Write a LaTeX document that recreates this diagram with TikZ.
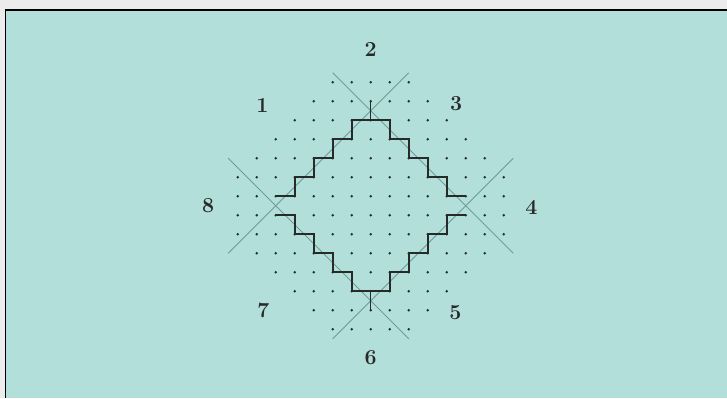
\documentclass[tikz,border=0pt]{standalone}
\usetikzlibrary{positioning,calc}
\definecolor{lgTeal}{HTML}{B2DFDA}
\definecolor{lgFrame}{HTML}{ECECEC}
\definecolor{lgInk}{HTML}{262B2A}
\definecolor{lgLine}{HTML}{6F9C97}
\tikzset{
  lg stair/.style={draw=lgInk, line width=1.5pt, line join=miter},
  lg diag/.style={draw=lgLine, line width=0.7pt},
  lg dot/.style={fill=lgInk},
  lg label/.style={font=\fontsize{16}{19}\selectfont\bfseries, text=lgInk, inner sep=0pt},
}
\begin{document}
\begin{tikzpicture}[x=0.5cm,y=0.5cm]
\useasboundingbox(-19.51,-10.12)rectangle(18.75,10.83);
\fill[lgFrame](-19.51,-10.12)rectangle(18.75,10.83);
\fill[lgTeal](-19.22,-10.12)rectangle(18.75,10.30);
\draw[black,line width=1.2pt](-19.22,-10.12)--(-19.22,10.30)--(18.75,10.30);
% vertices of the diamond
\coordinate(v2)at(0,5);\coordinate(v4)at(5,0);\coordinate(v6)at(0,-5);\coordinate(v8)at(-5,0);
\draw[lg diag]($(v8)+(-2.5,-2.5)$)--(v8)--(v2)--++(2,2);
\draw[lg diag]($(v2)+(-2,2)$)--(v2)--(v4)--++(2.5,-2.5);
\draw[lg diag]($(v4)+(2.5,2.5)$)--(v4)--(v6)--++(-2,-2);
\draw[lg diag]($(v6)+(2,-2)$)--(v6)--(v8)--++(-2.5,2.5);
% dot grid
\foreach \r in {0,...,6}{
  \pgfmathtruncatemacro\m{min(7,8-\r)}
  \foreach \c in {-\m,...,\m}{\fill[lg dot](\c,\r+.5)circle(1pt);\fill[lg dot](\c,-\r-.5)circle(1pt);}
}
% staircase
\draw[lg stair](-5,.5)--(-4,.5)--(-4,1.5)--(-3,1.5)--(-3,2.5)--(-2,2.5)--(-2,3.5)--(-1,3.5)--(-1,4.5)--(1,4.5)--(1,3.5)--(2,3.5)--(2,2.5)--(3,2.5)--(3,1.5)--(4,1.5)--(4,.5)--(5,.5);
\draw[lg stair](-5,-.5)--(-4,-.5)--(-4,-1.5)--(-3,-1.5)--(-3,-2.5)--(-2,-2.5)--(-2,-3.5)--(-1,-3.5)--(-1,-4.5)--(1,-4.5)--(1,-3.5)--(2,-3.5)--(2,-2.5)--(3,-2.5)--(3,-1.5)--(4,-1.5)--(4,-.5)--(5,-.5);
\draw[lg stair,line width=1pt](0,4.5)--(0,5.5);\draw[lg stair,line width=1pt](0,-4.5)--(0,-5.5);
% region labels
\node[lg label](l1)at(-5.7,5.3){1};
\node[lg label](l2)at(0,8.2){2};
\node[lg label](l3)at(4.5,5.4){3};
\node[lg label](l4)at(8.45,-0.1){4};
\node[lg label](l5)at(4.45,-5.6){5};
\node[lg label](l6)at(0,-8.0){6};
\node[lg label](l7)at(-5.65,-5.5){7};
\node[lg label](l8)at(-8.55,0){8};
\end{tikzpicture}
\end{document}
